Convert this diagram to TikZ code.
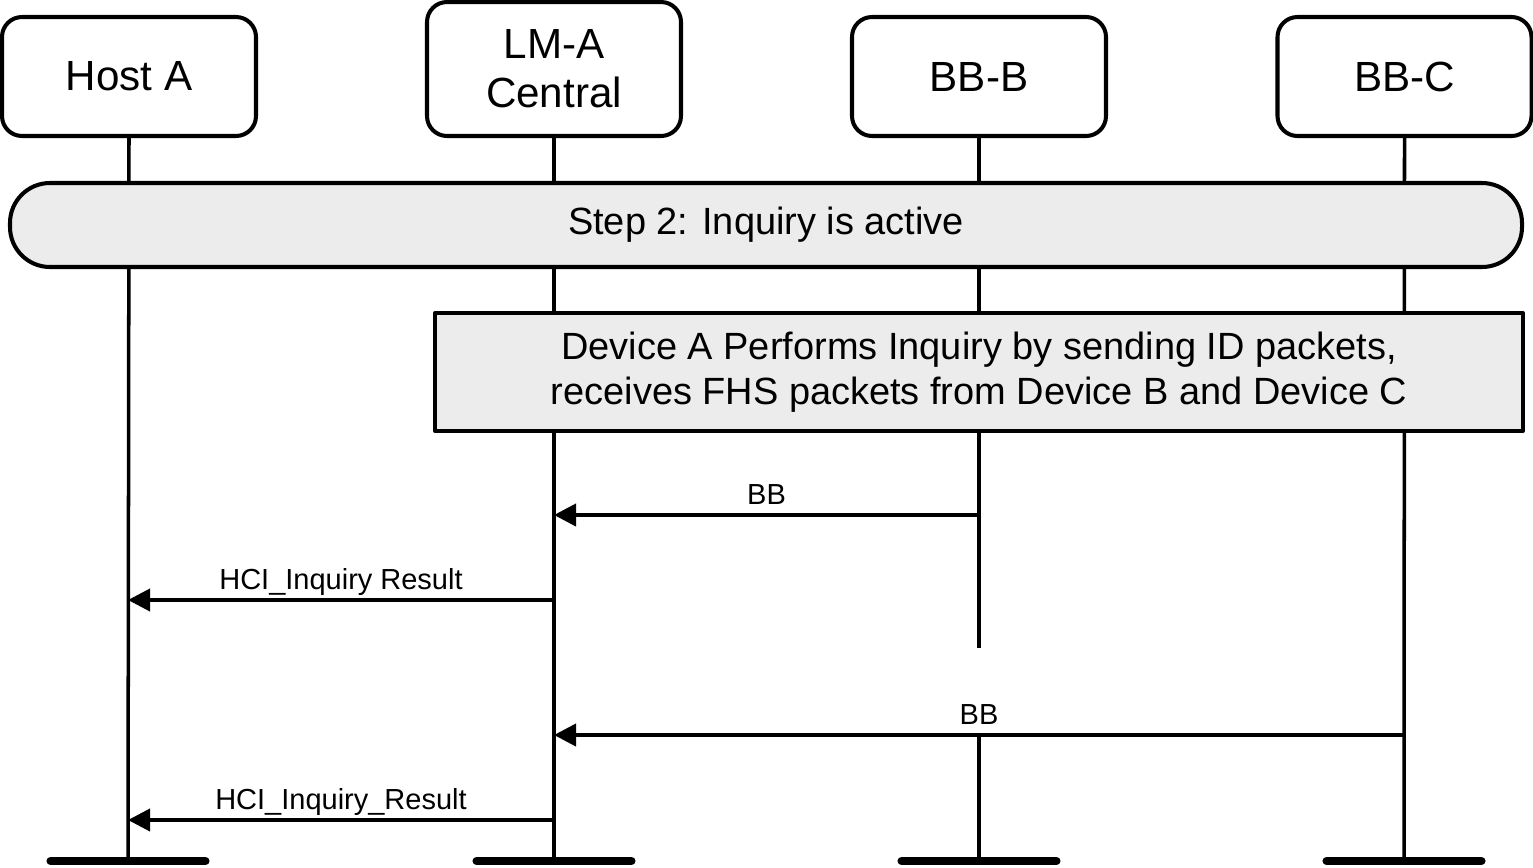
\documentclass[tikz,border=0pt]{standalone}
\usepackage{fontspec}
\setmainfont{Liberation Sans}
\usetikzlibrary{arrows.meta}
\begin{document}
\begin{tikzpicture}[line join=round,
	actor/.style={draw,fill=white,line width=2.3pt,rounded corners=0.4cm,minimum width=5.08cm,minimum height=2.38cm,align=center,font=\fontsize{24}{28}\selectfont},
	phase/.style={draw,fill=gray!15,line width=2.3pt,align=center,font=\fontsize{21.6}{25.5}\selectfont},
	life/.style={line width=2pt},
	endbar/.style={line width=4.6pt,line cap=round},
	msg/.style={line width=2.2pt,-{Triangle[length=0.44cm,width=0.44cm]}},
	msglabel/.style={anchor=base,yshift=0.22cm,font=\fontsize{16.5}{19}\selectfont}]
	\useasboundingbox (0,0) rectangle (30.66,-17.34);
	\def\yend{-17.22} % hoehe der endbalken
	\def\bw{1.55} % halbe breite der endbalken
	% kopfboxen
	\node[actor] (host) at (2.58,-1.53) {Host A};
	\node[actor,minimum height=2.68cm] (lma) at (11.08,-1.38) {LM-A\\Central};
	\node[actor] (bbb) at (19.58,-1.53) {BB-B};
	\node[actor] (bbc) at (28.09,-1.53) {BB-C};
	\path
	(2.56,\yend) coordinate (hostE)
	(11.08,\yend) coordinate (lmaE)
	(19.58,\yend) coordinate (bbbE)
	(28.08,\yend) coordinate (bbcE)
	(19.58,-12.96) coordinate (bbbG)
	(19.58,-14.70) coordinate (bbbR);
	% lebenslinien
	\draw[life] (host.south) -- (hostE);
	\draw[life] (lma.south) -- (lmaE);
	\draw[life] (bbb.south) -- (bbbG) (bbbR) -- (bbbE);
	\draw[life] (bbc.south) -- (bbcE);
	% endbalken
	\foreach \p in {hostE,lmaE,bbbE,bbcE}
		\draw[endbar] ([xshift=-\bw cm]\p) -- ([xshift=\bw cm]\p);
	% phasen
	\node[phase,rounded corners=0.8cm,minimum width=30.24cm,minimum height=1.68cm] (step) at (15.32,-4.50) {Step 2: Inquiry is active};
	\node[phase,minimum width=21.76cm,minimum height=2.36cm] (inq) at (19.58,-7.44) {Device A Performs Inquiry by sending ID packets,\\receives FHS packets from Device B and Device C};
	% nachrichten
	\path
	(19.58,-10.30) coordinate (m1b) (11.08,-10.30) coordinate (m1a)
	(11.08,-12.00) coordinate (m2a) (2.56,-12.00) coordinate (m2h)
	(28.08,-14.70) coordinate (m3c) (11.08,-14.70) coordinate (m3a)
	(11.08,-16.40) coordinate (m4a) (2.56,-16.40) coordinate (m4h);
	\draw[msg] (m1b) -- (m1a) node[midway,msglabel]{BB};
	\draw[msg] (m2a) -- (m2h) node[midway,msglabel]{HCI\_Inquiry Result};
	\draw[msg] (m3c) -- (m3a) node[midway,msglabel]{BB};
	\draw[msg] (m4a) -- (m4h) node[midway,msglabel]{HCI\_Inquiry\_Result};
\end{tikzpicture}
\end{document}
